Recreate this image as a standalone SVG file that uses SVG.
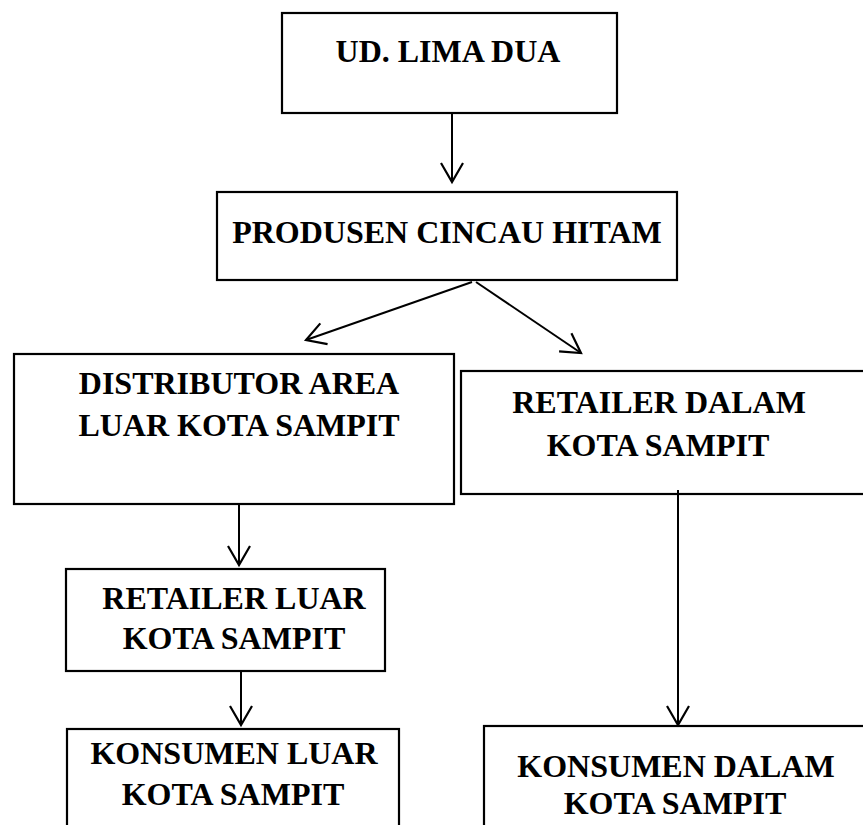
<svg xmlns="http://www.w3.org/2000/svg" width="863" height="825" viewBox="0 0 863 825">
<style>
.box{fill:#fff;stroke:#000;stroke-width:2.2}
.t{font-family:"Liberation Serif","Times New Roman",serif;font-weight:bold;font-size:32px;fill:#000;text-anchor:middle}
.c{stroke:#000;stroke-width:2;fill:none}
</style>
<defs>
<marker id="ah" viewBox="-21 -13 23 26" markerWidth="23" markerHeight="26" refX="0" refY="0" orient="auto" markerUnits="userSpaceOnUse" overflow="visible">
<path d="M-19,-11 L0,0 L-19,11" fill="none" stroke="#000" stroke-width="2.2"/>
</marker>
</defs>
<rect width="863" height="825" fill="#fff"/>
<g id="n1"><rect class="box" x="282" y="13" width="335" height="100"/><text class="t" x="448" y="62">UD. LIMA DUA</text></g>
<g id="n2"><rect class="box" x="217" y="192" width="460" height="88"/><text class="t" x="447" y="243">PRODUSEN CINCAU HITAM</text></g>
<g id="n3"><rect class="box" x="14" y="354" width="440" height="150"/><text class="t" x="239" y="394">DISTRIBUTOR AREA</text><text class="t" x="239" y="436">LUAR KOTA SAMPIT</text></g>
<g id="n4"><rect class="box" x="461" y="371" width="420" height="123"/><text class="t" x="659" y="413">RETAILER DALAM</text><text class="t" x="658" y="456">KOTA SAMPIT</text></g>
<g id="n5"><rect class="box" x="66" y="569" width="319" height="102"/><text class="t" x="234" y="609">RETAILER LUAR</text><text class="t" x="234" y="649">KOTA SAMPIT</text></g>
<g id="n6"><rect class="box" x="67" y="729" width="332" height="120"/><text class="t" x="234" y="764">KONSUMEN LUAR</text><text class="t" x="233" y="805">KOTA SAMPIT</text></g>
<g id="n7"><rect class="box" x="484" y="726" width="400" height="120"/><text class="t" x="676" y="777">KONSUMEN DALAM</text><text class="t" x="675" y="814">KOTA SAMPIT</text></g>
<g id="connectors">
<line class="c" x1="452" y1="113" x2="452" y2="182" marker-end="url(#ah)"/>
<line class="c" x1="472" y1="282" x2="306" y2="340" marker-end="url(#ah)"/>
<line class="c" x1="476" y1="282" x2="581" y2="353" marker-end="url(#ah)"/>
<line class="c" x1="239" y1="504" x2="239" y2="565" marker-end="url(#ah)"/>
<line class="c" x1="241" y1="671" x2="241" y2="725" marker-end="url(#ah)"/>
<line class="c" x1="678" y1="490" x2="678" y2="725" marker-end="url(#ah)"/>
</g>
</svg>
